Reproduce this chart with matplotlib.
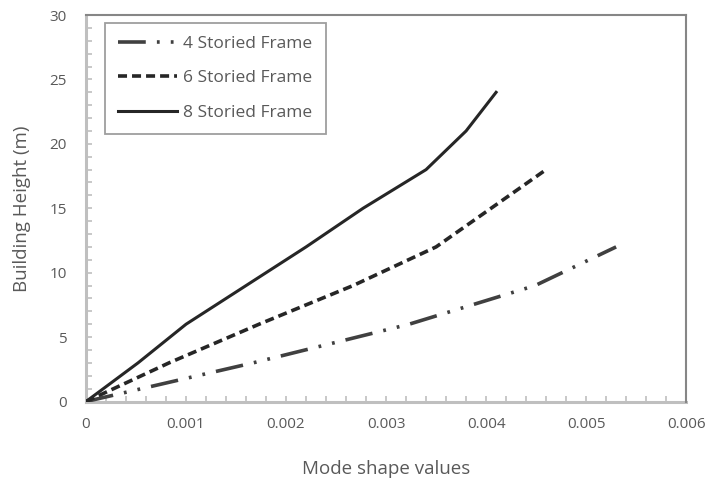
import matplotlib
matplotlib.use("Agg")
import matplotlib.pyplot as plt
from matplotlib.ticker import MultipleLocator, FuncFormatter

plt.rcParams['font.family'] = ['Open Sans', 'DejaVu Sans']
plt.rcParams['lines.scale_dashes'] = False

# Mode shape values (x) against storey height (m) for each frame
height_4 = [0, 3, 6, 9, 12]
mode_4 = [0, 0.00167, 0.00323, 0.00449, 0.0053]

height_6 = [0, 3, 6, 9, 12, 15, 18]
mode_6 = [0, 0.00083, 0.00173, 0.00267, 0.0035, 0.00405, 0.0046]

height_8 = [0, 3, 6, 9, 12, 15, 18, 21, 24]
mode_8 = [0, 0.00052, 0.001, 0.0016, 0.0022, 0.00277, 0.0034, 0.0038, 0.0041]

series_labels = ['4 Storied Frame', '6 Storied Frame', '8 Storied Frame']
x_ticks = [0, 0.001, 0.002, 0.003, 0.004, 0.005, 0.006]
y_ticks = [0, 5, 10, 15, 20, 25, 30]

text_color = '#595959'
axis_color = '#bfbfbf'
border_color = '#868686'

fig = plt.figure(figsize=(7.11, 4.78), dpi=100)
ax = fig.add_axes([0.121, 0.16, 0.844, 0.8086])

ax.plot(mode_4, height_4, color='#404040', lw=2.6,
        dashes=(20, 8, 2, 8, 2, 8), dash_capstyle='butt',
        label=series_labels[0])
ax.plot(mode_6, height_6, color='#262626', lw=2.6,
        dashes=(6.5, 3.6), dash_capstyle='butt',
        label=series_labels[1])
ax.plot(mode_8, height_8, color='#262626', lw=2.2,
        label=series_labels[2])

ax.set_xlim(0, 0.006)
ax.set_ylim(0, 30)
ax.set_xticks(x_ticks)
ax.set_yticks(y_ticks)
ax.xaxis.set_major_formatter(FuncFormatter(lambda v, p: '0' if v == 0 else f'{v:.3f}'))
ax.xaxis.set_minor_locator(MultipleLocator(0.0002))
ax.yaxis.set_minor_locator(MultipleLocator(1))

ax.tick_params(axis='both', which='both', direction='in', color=axis_color,
               width=1.2, labelcolor=text_color, labelsize=11)
ax.tick_params(axis='both', which='both', length=4)
ax.tick_params(axis='x', which='major', pad=11)
ax.tick_params(axis='y', which='major', pad=14)

for side in ('top', 'right'):
    ax.spines[side].set_color(border_color)
    ax.spines[side].set_linewidth(1.5)
for side in ('left', 'bottom'):
    ax.spines[side].set_color(axis_color)
    ax.spines[side].set_linewidth(2.2)
    ax.spines[side].set_zorder(1)

ax.set_xlabel('Mode shape values', color=text_color, fontsize=13.5, labelpad=20)
ax.set_ylabel('Building Height (m)', color=text_color, fontsize=13.5, labelpad=13)

leg = ax.legend(loc='upper left', bbox_to_anchor=(0.032, 0.98), fontsize=12.5,
                frameon=True, fancybox=False, edgecolor=border_color,
                handlelength=3.4, handletextpad=0.35, borderpad=0.75,
                labelspacing=1.05, borderaxespad=0)
leg.get_frame().set_linewidth(1.3)
for t in leg.get_texts():
    t.set_color(text_color)

fig.savefig('out.png', dpi=100)
